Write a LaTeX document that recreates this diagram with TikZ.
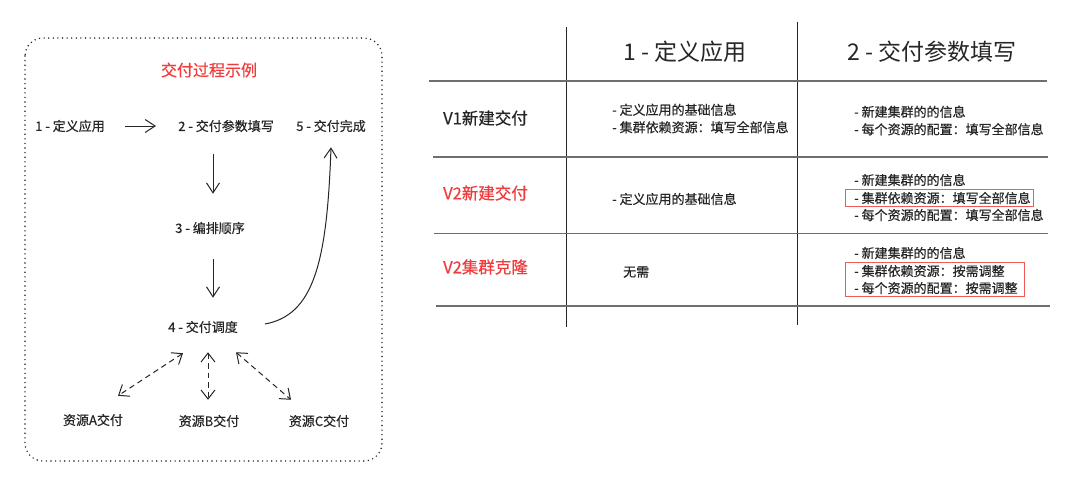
\documentclass[tikz,border=0pt]{standalone}
\usepackage{fontspec}
\setmainfont{Noto Sans CJK SC}
\newfontfamily\semibold[FakeBold=0.5]{Noto Sans CJK SC}
\usepackage{xcolor}
\usepackage{tikz}
\usetikzlibrary{arrows.meta,calc,positioning}
\definecolor{hotred}{HTML}{F03C3C}
\definecolor{ink}{HTML}{262626}
\definecolor{rule}{HTML}{6E6E6E}

\begin{document}
\begin{tikzpicture}[x=1pt,y=-1pt,
  every node/.style={inner sep=0pt,text=ink},
  stepnode/.style={font=\semibold\fontsize{13}{15}\selectfont},
  cell/.style={anchor=west,align=left,font=\semibold\fontsize{13}{17.5}\selectfont},
  rowhead/.style={anchor=west,font=\semibold\fontsize{16.5}{18}\selectfont},
  colhead/.style={font=\fontsize{23}{25}\selectfont},
  flow/.style={draw=ink,line width=1pt,-{Straight Barb[length=10pt,width=13pt]}},
  dlink/.style={flow,{Straight Barb[length=9pt,width=14pt]}-{Straight Barb[length=9pt,width=14pt]},dash pattern=on 5.5pt off 4pt},
  frame/.style={draw=ink,line width=1.6pt,line cap=round,dash pattern=on 0pt off 4.6pt,rounded corners=18pt},
  redbox/.style={draw=hotred!85,line width=0.9pt},
  thickrule/.style={draw=rule,line width=2pt},
  thinrule/.style={draw=rule,line width=1pt},
  colrule/.style={draw=ink,line width=1pt}]
\useasboundingbox (0,0) rectangle (1080,477);
\fill[white] (0,0) rectangle (1080,477);

\draw[frame] (25,38) rectangle (382,461);
\node[font=\semibold\fontsize{16}{18}\selectfont,text=hotred] (title) at (209,70) {交付过程示例};
\node[stepnode] (l1) at (70,126) {1 - 定义应用};
\node[stepnode] (l2) at (226,126) {2 - 交付参数填写};
\node[stepnode] (l5) at (331,126) {5 - 交付完成};
\node[stepnode] (l3) at (210,228) {3 - 编排顺序};
\node[stepnode] (l4) at (203,327) {4 - 交付调度};
\node[stepnode] (resA) at (93,420) {资源A交付};
\node[stepnode] (resB) at (209,421) {资源B交付};
\node[stepnode] (resC) at (319,421) {资源C交付};

\draw[flow,shorten <=20pt,shorten >=22pt] (l1) -- (l2);
\draw[flow,shorten <=22pt,shorten >=28pt] ($(l3 |- l2.south)+(3,0)$) -- ($(l3.north)+(3,0)$);
\draw[flow,shorten <=25pt,shorten >=23pt] ($(l3.south)+(3,0)$) -- ($(l3 |- l4.north)+(3,0)$);
\draw[flow] ($(l4.east)+(27,-3)$) .. controls (314,315) and (327,262) .. ($(l5.south)+(0,15)$);
\draw[dlink] ($(l4.south)+(-20,20)$) -- ($(resA.north)+(25,-18)$);
\draw[dlink] ($(l4.south)+(5,19)$) -- ($(resB.north)+(-1,-15)$);
\draw[dlink] ($(l4.south)+(33,19)$) -- ($(resC.north)+(-28,-15)$);

\draw[colrule] (566,27) -- (566,327);
\draw[colrule] (797,22) -- (797,325);
\draw[thickrule] (429,81) -- (1047,81);
\draw[thickrule] (433,157) -- (1048,157);
\draw[thinrule] (434,233) -- (1048,233);
\draw[thickrule] (436,306) -- (1050,306);

\node[colhead] (h1) at (685,52) {1 - 定义应用};
\node[colhead] (h2) at (932,52) {2 - 交付参数填写};
\node[rowhead] (v1) at (443,118) {V1新建交付};
\node[rowhead,text=hotred] (v2) at (443,193) {V2新建交付};
\node[rowhead,text=hotred] (v3) at (443,267) {V2集群克隆};

\node[cell] (d1) at (612,118.5) {- 定义应用的基础信息\\- 集群依赖资源：填写全部信息};
\node[cell] (d2) at (612,199) {- 定义应用的基础信息};
\node[cell] (d3) at (623,272) {无需};

\node[cell] (p1) at (854,120.5) {- 新建集群的的信息\\- 每个资源的配置：填写全部信息};
\node[cell] (p2a) at (854,180) {- 新建集群的的信息};
\node[cell] (p2b) at (854,198) {- 集群依赖资源：填写全部信息};
\node[cell] (p2c) at (854,215) {- 每个资源的配置：填写全部信息};
\node[cell] (p3a) at (854,253) {- 新建集群的的信息};
\node[cell] (p3b) at (854,271) {- 集群依赖资源：按需调整};
\node[cell] (p3c) at (854,288) {- 每个资源的配置：按需调整};
\draw[redbox] ($(p2b.north west)+(-9,-2.5)$) rectangle ($(p2b.south east)+(3,2.5)$);
\draw[redbox] ($(p3b.north west)+(-9,-2.5)$) rectangle ($(p3c.south east)+(7,2.5)$);
\end{tikzpicture}
\end{document}
